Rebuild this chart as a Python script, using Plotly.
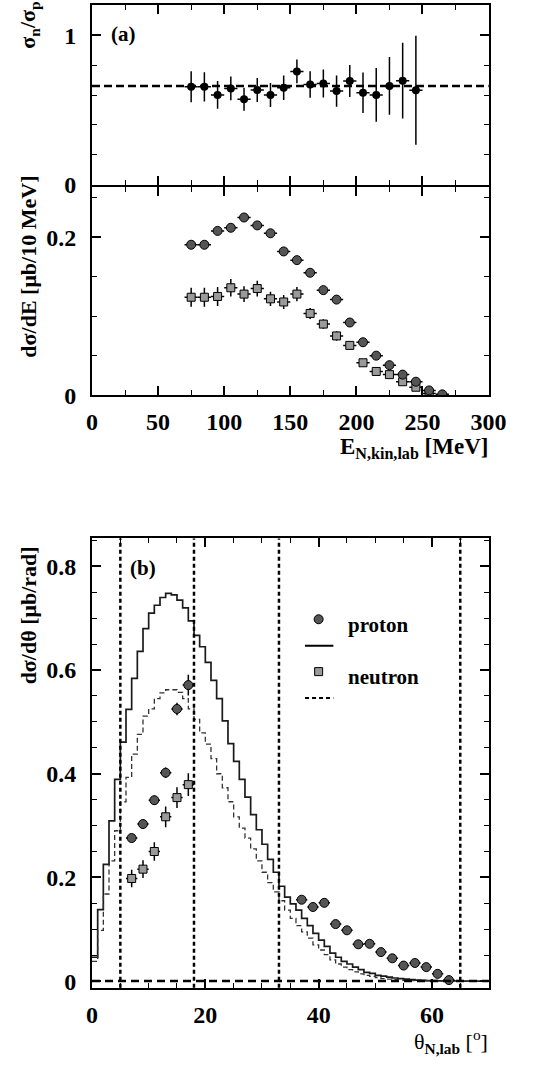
import plotly.graph_objects as go

# ---------------- data ----------------
# panel (a) top: ratio sigma_n / sigma_p vs kinetic energy
E_ratio = [75, 85, 95, 105, 115, 125, 135, 145, 155, 165, 175, 185, 195, 205, 215, 225, 235, 245]
ratio = [0.656, 0.656, 0.601, 0.645, 0.572, 0.634, 0.601, 0.649, 0.759, 0.671, 0.678, 0.627,
         0.695, 0.616, 0.601, 0.662, 0.697, 0.632]
ratio_err = [0.104, 0.098, 0.093, 0.079, 0.077, 0.080, 0.080, 0.082, 0.080, 0.089, 0.094, 0.104,
             0.107, 0.135, 0.180, 0.194, 0.253, 0.365]
ratio_mean = 0.662

# panel (a) bottom: dsigma/dE
E_p = [75, 85, 95, 105, 115, 125, 135, 145, 155, 165, 175, 185, 195, 205, 215, 225, 235, 245, 255, 265]
dsdE_p = [0.1905, 0.1905, 0.208, 0.212, 0.225, 0.215, 0.205, 0.182, 0.171, 0.155, 0.133, 0.121,
          0.092, 0.067, 0.050, 0.038, 0.026, 0.017, 0.006, 0.001]
dsdE_p_err = [0.004, 0.004, 0.004, 0.004, 0.004, 0.004, 0.004, 0.004, 0.004, 0.003, 0.003, 0.003,
              0.003, 0.003, 0.002, 0.002, 0.002, 0.002, 0.001, 0.001]
E_n = [75, 85, 95, 105, 115, 125, 135, 145, 155, 165, 175, 185, 195, 205, 215, 225, 235, 245, 255]
dsdE_n = [0.124, 0.124, 0.125, 0.136, 0.128, 0.135, 0.122, 0.118, 0.128, 0.1035, 0.090, 0.075,
          0.063, 0.041, 0.030, 0.026, 0.017, 0.010, 0.002]
dsdE_n_err = [0.012, 0.012, 0.012, 0.011, 0.010, 0.010, 0.009, 0.009, 0.009, 0.007, 0.006, 0.006,
              0.005, 0.004, 0.004, 0.004, 0.003, 0.003, 0.002]

# panel (b): dsigma/dtheta
th_p = [7, 9, 11, 13, 15, 17, 37, 39, 41, 43, 45, 47, 49, 51, 53, 55, 57, 59, 61, 63]
dsdth_p = [0.276, 0.303, 0.349, 0.402, 0.525, 0.571, 0.157, 0.143, 0.151, 0.110, 0.098, 0.071,
           0.072, 0.056, 0.044, 0.030, 0.035, 0.027, 0.014, 0.002]
dsdth_p_err = [0.008, 0.008, 0.009, 0.010, 0.012, 0.020, 0.006, 0.006, 0.006, 0.005, 0.005, 0.004,
               0.004, 0.004, 0.003, 0.003, 0.003, 0.003, 0.002, 0.002]
th_n = [7, 9, 11, 13, 15, 17]
dsdth_n = [0.198, 0.216, 0.250, 0.317, 0.354, 0.379]
dsdth_n_err = [0.017, 0.017, 0.018, 0.020, 0.020, 0.022]

# simulated histograms, 1 degree bins from 0 to 70
sim_edges = list(range(0, 71))
sim_p = [0.046, 0.138, 0.225, 0.309, 0.389, 0.461, 0.524, 0.584, 0.636, 0.680,
         0.710, 0.725, 0.740, 0.748, 0.745, 0.735, 0.720, 0.695, 0.667, 0.645,
         0.615, 0.580, 0.545, 0.502, 0.458, 0.424, 0.389, 0.355, 0.321, 0.292,
         0.264, 0.235, 0.210, 0.183, 0.162, 0.149, 0.137, 0.121, 0.107, 0.092,
         0.079, 0.067, 0.054, 0.046, 0.038, 0.033, 0.027, 0.022, 0.017, 0.015,
         0.011, 0.0095, 0.0076, 0.006, 0.005, 0.004, 0.003, 0.002, 0.0015, 0.001,
         0.001, 0.0005, 0.0005, 0.0003, 0.0002, 0.0001, 0.0001, 0.0, 0.0, 0.0]
sim_n = [0.038, 0.098, 0.168, 0.232, 0.290, 0.346, 0.393, 0.438, 0.476, 0.511,
         0.525, 0.545, 0.556, 0.562, 0.562, 0.557, 0.545, 0.525, 0.505, 0.479,
         0.457, 0.429, 0.400, 0.373, 0.346, 0.317, 0.295, 0.276, 0.255, 0.232,
         0.210, 0.190, 0.172, 0.155, 0.137, 0.121, 0.107, 0.095, 0.083, 0.070,
         0.060, 0.051, 0.041, 0.033, 0.027, 0.022, 0.018, 0.014, 0.011, 0.009,
         0.007, 0.005, 0.004, 0.003, 0.002, 0.0015, 0.001, 0.0008, 0.0005, 0.0003,
         0.0002, 0.0001, 0.0, 0.0, 0.0, 0.0, 0.0, 0.0, 0.0, 0.0]
cut_angles = [5, 18, 33, 65]

# ---------------- style ----------------
W, H = 541, 1071
FONT = "Liberation Serif"
P_FILL = "#555555"
N_FILL = "#9a9a9a"

def py(px):
    return 1 - px / H

XD = [90 / W, 505 / W]
Y1 = [py(187), py(5)]
Y2 = [py(400), py(189)]
Y3 = [py(1000), py(545)]

fig = go.Figure()

def err(arr, t=1.5):
    return dict(type="data", array=arr, width=0, thickness=t, color="black")

# top panel
fig.add_trace(go.Scatter(
    x=E_ratio, y=ratio, mode="markers", xaxis="x", yaxis="y",
    marker=dict(symbol="circle", size=8, color="black"),
    error_x=err([5] * len(E_ratio)), error_y=err(ratio_err), showlegend=False))

# middle panel
fig.add_trace(go.Scatter(
    x=E_n, y=dsdE_n, mode="markers", xaxis="x2", yaxis="y2",
    marker=dict(symbol="square", size=8, color=N_FILL, line=dict(color="black", width=1)),
    error_x=err([5] * len(E_n)), error_y=err(dsdE_n_err), showlegend=False))
fig.add_trace(go.Scatter(
    x=E_p, y=dsdE_p, mode="markers", xaxis="x2", yaxis="y2",
    marker=dict(symbol="circle", size=9, color=P_FILL, line=dict(color="black", width=1)),
    error_x=err([5] * len(E_p)), error_y=err(dsdE_p_err), showlegend=False))

# bottom panel histograms
hx = sim_edges
hp = sim_p + [sim_p[-1]]
hn = sim_n + [sim_n[-1]]
fig.add_trace(go.Scatter(
    x=hx, y=hp, mode="lines", line=dict(shape="hv", color="#1a1a1a", width=1.7),
    xaxis="x3", yaxis="y3", showlegend=False))
fig.add_trace(go.Scatter(
    x=hx, y=hn, mode="lines", line=dict(shape="hv", color="#333333", width=1.3, dash="5px,3px"),
    xaxis="x3", yaxis="y3", showlegend=False))

fig.add_trace(go.Scatter(
    x=th_n, y=dsdth_n, mode="markers", xaxis="x3", yaxis="y3",
    marker=dict(symbol="square", size=8, color=N_FILL, line=dict(color="black", width=1)),
    error_x=err([1] * len(th_n)), error_y=err(dsdth_n_err), showlegend=False))
fig.add_trace(go.Scatter(
    x=th_p, y=dsdth_p, mode="markers", xaxis="x3", yaxis="y3",
    marker=dict(symbol="circle", size=9, color=P_FILL, line=dict(color="black", width=1)),
    error_x=err([1] * len(th_p)), error_y=err(dsdth_p_err), showlegend=False))

# ---------------- axes ----------------
tickfont = dict(family=FONT, size=24, color="black", weight="bold")

def axis(standoff, **kw):
    base = dict(showline=True, linecolor="black", linewidth=2, mirror="allticks",
                ticks="inside", ticklen=9, tickwidth=1.5, tickcolor="black",
                showgrid=False, zeroline=False, tickfont=tickfont,
                ticklabelstandoff=standoff)
    base.update(kw)
    return base

MINOR = dict(ticklen=5, ticks="inside", tickcolor="black", tickwidth=1.2)

shapes = []
# dashed mean line top panel
shapes.append(dict(type="line", xref="x domain", yref="y", x0=0, x1=1, y0=ratio_mean, y1=ratio_mean,
                   line=dict(color="black", width=2.5, dash="8px,4px")))
# cut lines bottom panel
for a in cut_angles:
    shapes.append(dict(type="line", xref="x3", yref="y3 domain", x0=a, x1=a, y0=0, y1=1,
                       line=dict(color="black", width=2.5, dash="4px,3px")))
shapes.append(dict(type="line", xref="x3 domain", yref="y3", x0=0, x1=1, y0=0, y1=0,
                   line=dict(color="black", width=2.5, dash="8px,5px")))

# legend (manual)
shapes.append(dict(type="circle", xref="x3", yref="y3", xsizemode="pixel", ysizemode="pixel",
                   xanchor=40, yanchor=0.698, x0=-4.5, x1=4.5, y0=-4.5, y1=4.5,
                   fillcolor=P_FILL, line=dict(color="black", width=1)))
shapes.append(dict(type="line", xref="x3", yref="y3", x0=37.6, x1=42.6, y0=0.647, y1=0.647,
                   line=dict(color="black", width=2)))
shapes.append(dict(type="rect", xref="x3", yref="y3", xsizemode="pixel", ysizemode="pixel",
                   xanchor=40, yanchor=0.597, x0=-4, x1=4, y0=-4, y1=4,
                   fillcolor=N_FILL, line=dict(color="black", width=1)))
shapes.append(dict(type="line", xref="x3", yref="y3", x0=37.6, x1=42.6, y0=0.546, y1=0.546,
                   line=dict(color="black", width=2, dash="4px,3px")))

bf = lambda s: dict(family=FONT, size=s, color="black", weight="bold")

def ann(text, x, y, font, xref="paper", yref="paper", xanchor="center", yanchor="middle", angle=0):
    return dict(text=text, xref=xref, yref=yref, x=x, y=y, showarrow=False, font=font,
                xanchor=xanchor, yanchor=yanchor, textangle=angle)

annotations = [
    ann("(a)", 24, 1.007, bf(21), xref="x", yref="y"),
    ann("(b)", 9, 0.796, bf(21), xref="x3", yref="y3"),
    ann("proton", 44.8, 0.687, bf(21), xref="x3", yref="y3", xanchor="left"),
    ann("neutron", 44.8, 0.587, bf(21), xref="x3", yref="y3", xanchor="left"),
    ann("σ<sub>n</sub>/σ<sub>p</sub>", 24 / W, py(25), bf(22), angle=-90),
    ann("dσ/dE [μb/10 MeV]", 24 / W, py(270), bf(22), angle=-90),
    ann("dσ/dθ [μb/rad]", 24 / W, py(623), bf(22), angle=-90),
    ann("E<sub>N,kin,lab</sub> [MeV]", 506 / W, py(453), bf(23), xanchor="right"),
    ann("θ<sub><b>N,lab</b></sub> [<sup>o</sup>]", 506 / W, py(1054),
        dict(family=FONT, size=22, color="black"), xanchor="right"),
]

fig.update_layout(
    width=W, height=H, margin=dict(l=0, r=0, t=0, b=0),
    paper_bgcolor="white", plot_bgcolor="white", showlegend=False,
    xaxis=axis(4, domain=XD, anchor="y", range=[0, 300], dtick=50, showticklabels=False,
               minor=dict(dtick=25, **MINOR)),
    yaxis=axis(9, domain=Y1, anchor="x", range=[0, 1.204], dtick=1,
               minor=dict(dtick=0.2, **MINOR)),
    xaxis2=axis(4, domain=XD, anchor="y2", range=[0, 300], dtick=50, matches="x",
                minor=dict(dtick=25, **MINOR)),
    yaxis2=axis(9, domain=Y2, anchor="x2", range=[0, 0.264], dtick=0.2,
                minor=dict(dtick=0.05, **MINOR)),
    xaxis3=axis(4, domain=XD, anchor="y3", range=[0, 70], dtick=20,
                minor=dict(dtick=5, **MINOR)),
    yaxis3=axis(9, domain=Y3, anchor="x3", range=[-0.013, 0.854], dtick=0.2,
                minor=dict(dtick=0.05, **MINOR)),
    shapes=shapes, annotations=annotations,
)

fig.write_html("out.html")
